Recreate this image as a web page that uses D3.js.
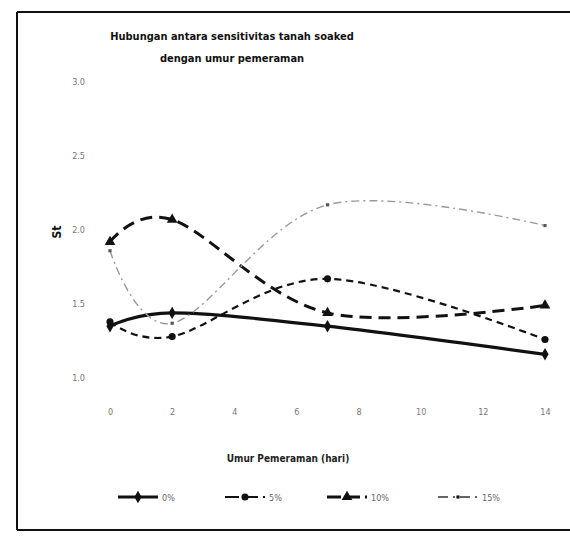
<!DOCTYPE html>
<html><head><meta charset="utf-8">
<script src="https://cdn.jsdelivr.net/npm/d3@7"></script>
<style>body{margin:0;background:#fff}svg{display:block}</style>
</head><body><div id="chart"></div>
<script>
const days = [0, 2, 7, 14];
const seriesNames = ["0%", "5%", "10%", "15%"];
const s0 = [1.35, 1.44, 1.35, 1.16];
const s5 = [1.38, 1.28, 1.67, 1.26];
const s10 = [1.92, 2.07, 1.44, 1.49];
const s15 = [1.86, 1.37, 2.17, 2.03];
const xTicks = [0, 2, 4, 6, 8, 10, 12, 14];
const yTicks = [1.0, 1.5, 2.0, 2.5, 3.0];
const titleLines = ["Hubungan antara sensitivitas tanah soaked", "dengan umur pemeraman"];
const xTitle = "Umur Pemeraman (hari)";
const yTitle = "St";

const W = 570, H = 542;
const svg = d3.select("#chart").append("svg").attr("width", W).attr("height", H);
const font = "'DejaVu Sans Condensed', 'DejaVu Sans', sans-serif";

// frame
svg.append("path").attr("d", "M17,12 H575 M17,12 V530 M17,530 H575")
  .attr("stroke", "#111").attr("stroke-width", 2).attr("fill", "none");

const x = d3.scaleLinear().domain([0, 14]).range([110, 545]);
const y = d3.scaleLinear().domain([1, 3]).range([378, 82]);

// axes (no lines, faint labels)
const yAxis = svg.append("g").attr("transform", "translate(88,0)")
  .call(d3.axisLeft(y).tickValues(yTicks).tickSize(0).tickFormat(d3.format(".1f")));
yAxis.select(".domain").remove();
yAxis.selectAll("text").attr("fill", "#777").style("font-family", font).style("font-size", "9px");

const xAxis = svg.append("g").attr("transform", "translate(0,406)")
  .call(d3.axisBottom(x).tickValues(xTicks).tickSize(0));
xAxis.select(".domain").remove();
xAxis.selectAll("text").attr("fill", "#777").style("font-family", font).style("font-size", "9px");

// titles
titleLines.forEach((t, i) => {
  svg.append("text").attr("x", 232).attr("y", 40 + i * 22).attr("text-anchor", "middle")
    .style("font-family", font).style("font-size", "11px").style("font-weight", "bold")
    .attr("fill", "#111").text(t);
});
svg.append("text").attr("transform", "translate(61,232) rotate(-90)").attr("text-anchor", "middle")
  .style("font-family", font).style("font-size", "12px").style("font-weight", "bold").attr("fill", "#111").text(yTitle);
svg.append("text").attr("x", 288).attr("y", 462).attr("text-anchor", "middle")
  .style("font-family", font).style("font-size", "10px").style("font-weight", "bold").attr("fill", "#222").text(xTitle);

const styles = [
  {vals: s0, color: "#111", width: 3.2, dash: null, sym: d3.symbolDiamond, size: 45},
  {vals: s5, color: "#111", width: 2.2, dash: "7,5", sym: d3.symbolCircle, size: 40},
  {vals: s10, color: "#111", width: 3, dash: "12,7", sym: d3.symbolTriangle, size: 50},
  {vals: s15, color: "#999", width: 1.4, dash: "8,4,2,4", sym: d3.symbolSquare, size: 10}
];

const line = d3.line().x(d => x(d[0])).y(d => y(d[1])).curve(d3.curveCatmullRom.alpha(0));
styles.forEach(st => {
  const pts = days.map((d, i) => [d, st.vals[i]]);
  svg.append("path").datum(pts).attr("d", line).attr("fill", "none")
    .attr("stroke", st.color).attr("stroke-width", st.width)
    .attr("stroke-dasharray", st.dash);
  svg.selectAll(null).data(pts).enter().append("path")
    .attr("d", d3.symbol().type(st.sym).size(st.size))
    .attr("transform", d => `translate(${x(d[0])},${y(d[1])})`)
    .attr("fill", st.color === "#999" ? "#555" : st.color);
});

// legend
const legX = [118, 225, 327, 438];
const legY = 497;
styles.forEach((st, i) => {
  const g = svg.append("g");
  g.append("line").attr("x1", legX[i]).attr("x2", legX[i] + 40).attr("y1", legY).attr("y2", legY)
    .attr("stroke", st.color === "#999" ? "#333" : st.color).attr("stroke-width", st.width)
    .attr("stroke-dasharray", st.dash ? (i === 3 ? "10,5,2,5" : "14,5") : null);
  g.append("path").attr("d", d3.symbol().type(st.sym).size(st.size))
    .attr("transform", `translate(${legX[i] + 20},${legY})`).attr("fill", "#111");
  g.append("text").attr("x", legX[i] + 44).attr("y", legY + 4)
    .style("font-family", font).style("font-size", "9px").attr("fill", "#666").text(seriesNames[i]);
});
</script></body></html>
